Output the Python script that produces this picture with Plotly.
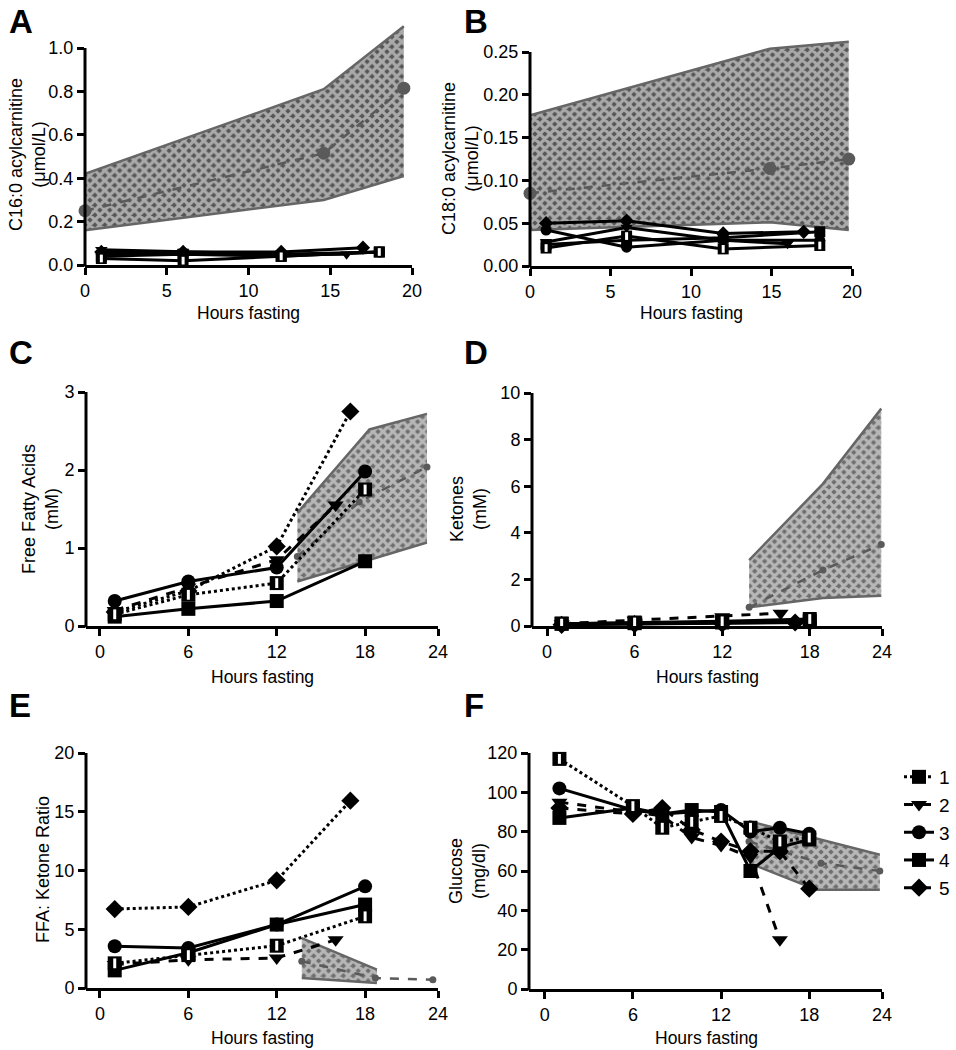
import plotly.graph_objects as go

W, H = 956, 1050

patients = ["1", "2", "3", "4", "5"]

# --- A: C16:0 acylcarnitine (umol/L) ---
a_hours = [[1, 6, 12, 18], [1, 6, 12, 16], [1, 6, 12, 18], [1, 6, 12, 18], [1, 6, 12, 17]]
a_vals = [[0.03, 0.02, 0.04, 0.06], [0.07, 0.06, 0.05, 0.05], [0.05, 0.05, 0.05, 0.06],
          [0.04, 0.05, 0.04, 0.06], [0.06, 0.06, 0.06, 0.08]]
a_ref_hours = [0, 14.6, 19.5]
a_ref_low = [0.16, 0.30, 0.41]
a_ref_high = [0.42, 0.81, 1.10]
a_mean_hours = [0, 14.6, 19.5]
a_mean = [0.25, 0.515, 0.815]

# --- B: C18:0 acylcarnitine (umol/L) ---
b_hours = [[1, 6, 12, 18], [1, 6, 12, 16], [1, 6, 12, 18], [1, 6, 12, 18], [1, 6, 12, 17]]
b_vals = [[0.021, 0.035, 0.020, 0.024], [0.028, 0.045, 0.030, 0.026], [0.042, 0.022, 0.030, 0.030],
          [0.025, 0.030, 0.033, 0.040], [0.050, 0.053, 0.038, 0.040]]
b_ref_hours = [0, 14.9, 19.8]
b_ref_low = [0.042, 0.051, 0.042]
b_ref_high = [0.176, 0.254, 0.262]
b_mean_hours = [0, 14.9, 19.8]
b_mean = [0.085, 0.114, 0.125]

# --- C: free fatty acids (mM) ---
c_hours = [[1, 6, 12, 18], [1, 6, 12, 16], [1, 6, 12, 18], [1, 6, 12, 18], [1, 6, 12, 17]]
c_vals = [[0.15, 0.40, 0.55, 1.75], [0.20, 0.50, 0.85, 1.55], [0.32, 0.57, 0.75, 1.98],
          [0.12, 0.22, 0.32, 0.83], [0.18, 0.45, 1.02, 2.75]]
c_ref_hours = [13.4, 18.3, 22.2]
c_ref_low = [0.57, 0.85, 1.07]
c_ref_high = [1.45, 2.52, 2.72]
c_mean_hours = [13.4, 17.6, 22.2]
c_mean = [0.89, 1.59, 2.04]

# --- D: ketones (mM) ---
d_hours = [[1, 6, 12, 18], [1, 6, 12, 16], [1, 6, 12, 18], [1, 6, 12, 18], [1, 6, 12, 17]]
d_vals = [[0.10, 0.15, 0.20, 0.30], [0.10, 0.25, 0.40, 0.55], [0.08, 0.10, 0.12, 0.15],
          [0.10, 0.12, 0.15, 0.20], [0.05, 0.08, 0.10, 0.15]]
d_ref_hours = [13.85, 18.9, 22.9]
d_ref_low = [0.8, 1.2, 1.3]
d_ref_high = [2.83, 6.1, 9.33]
d_mean_hours = [13.85, 18.9, 22.9]
d_mean = [0.8, 2.4, 3.5]

# --- E: FFA : ketone ratio ---
e_hours = [[1, 6, 12, 18], [1, 6, 12, 16], [1, 6, 12, 18], [1, 6, 12, 18], [1, 6, 12, 17]]
e_vals = [[2.1, 2.8, 3.6, 6.1], [2.0, 2.4, 2.55, 4.1], [3.55, 3.4, 5.4, 8.65],
          [1.5, 3.0, 5.4, 7.1], [6.72, 6.9, 9.16, 15.94]]
e_ref_hours = [13.7, 18.8]
e_ref_low = [0.85, 0.43]
e_ref_high = [4.25, 1.56]
e_mean_hours = [13.7, 18.7, 22.6]
e_mean = [2.27, 0.85, 0.71]

# --- F: glucose (mg/dl) ---
f_hours = [[1, 6, 8, 10, 12, 14, 16, 18], [1, 6, 8, 10, 12, 14, 16], [1, 6, 8, 10, 12, 14, 16, 18],
           [1, 6, 8, 10, 12, 14, 16, 18], [1, 6, 8, 10, 12, 14, 16, 18]]
f_vals = [[117, 93, 82, 85, 88, 82, 75, 77], [95, 90, 88, 77, 73, 67, 25],
          [102, 91, 89, 90, 91, 80, 82, 79], [87, 92, 89, 91, 90, 60, 72, 76],
          [92, 89, 92, 81, 75, 70, 70, 51]]
f_ref_hours = [13.9, 18.5, 22.8]
f_ref_low = [64, 50.5, 50.5]
f_ref_high = [85.3, 76.5, 68.3]
f_mean_hours = [13.9, 18.8, 22.8]
f_mean = [75, 64, 60]

hour_ticks_a = [0, 5, 10, 15, 20]
hour_ticks_c = [0, 6, 12, 18, 22.95]
hour_labels_c = ["0", "6", "12", "18", "24"]

FONT = "Liberation Sans, Arial, sans-serif"
symbols = ["square", "triangle-down", "circle", "square", "diamond"]
BAND_LINE = "#666666"


def add_panel(n, hours, vals, ref_h, ref_lo, ref_hi, mean_h, mean_v, dashes,
              msize, mean_size, band_bg, legend=False):
    xa, ya = f"x{n}", f"y{n}"
    # reference range band
    fig.add_trace(go.Scatter(x=ref_h, y=ref_lo, mode="lines", xaxis=xa, yaxis=ya,
                             line=dict(color=BAND_LINE, width=2.5), showlegend=False))
    fig.add_trace(go.Scatter(x=ref_h, y=ref_hi, mode="lines", xaxis=xa, yaxis=ya,
                             line=dict(color=BAND_LINE, width=2.5), fill="tonexty",
                             fillcolor=band_bg,
                             fillpattern=dict(shape="x", bgcolor=band_bg, fgcolor="white",
                                              size=7, solidity=0.7),
                             showlegend=False))
    fig.add_trace(go.Scatter(x=mean_h, y=mean_v, mode="lines+markers", xaxis=xa, yaxis=ya,
                             line=dict(color="#5a5a5a", width=2.5, dash="dash"),
                             marker=dict(color="#5a5a5a", size=mean_size),
                             cliponaxis=False, showlegend=False))
    for i in range(5):
        fig.add_trace(go.Scatter(x=hours[i], y=vals[i], mode="lines+markers", xaxis=xa, yaxis=ya,
                                 name=patients[i],
                                 line=dict(color="black", width=3, dash=dashes[i]),
                                 marker=dict(symbol=symbols[i], color="black", size=msize),
                                 cliponaxis=False, showlegend=legend))
    # white slot makes patient 1 a half-open square
    fig.add_trace(go.Scatter(x=hours[0], y=vals[0], mode="markers", xaxis=xa, yaxis=ya,
                             marker=dict(symbol="line-ns", size=msize * 0.5,
                                         line=dict(color="white", width=3)),
                             cliponaxis=False, showlegend=False))


fig = go.Figure()

solid = ["solid"] * 5
add_panel(1, a_hours, a_vals, a_ref_hours, a_ref_low, a_ref_high, a_mean_hours, a_mean,
          solid, 11, 13, "#555555")
add_panel(2, b_hours, b_vals, b_ref_hours, b_ref_low, b_ref_high, b_mean_hours, b_mean,
          solid, 11, 13, "#555555")
add_panel(3, c_hours, c_vals, c_ref_hours, c_ref_low, c_ref_high, c_mean_hours, c_mean,
          ["dot", "dash", "solid", "solid", "dot"], 14, 7, "#6e6e6e")
add_panel(4, d_hours, d_vals, d_ref_hours, d_ref_low, d_ref_high, d_mean_hours, d_mean,
          ["solid", "dash", "solid", "solid", "solid"], 14, 7, "#6e6e6e")
add_panel(5, e_hours, e_vals, e_ref_hours, e_ref_low, e_ref_high, e_mean_hours, e_mean,
          ["dot", "dash", "solid", "solid", "dot"], 14, 7, "#6e6e6e")
add_panel(6, f_hours, f_vals, f_ref_hours, f_ref_low, f_ref_high, f_mean_hours, f_mean,
          ["dot", "dash", "solid", "solid", "dash"], 14, 7, "#6e6e6e", legend=True)

# pixel boxes: left, right, bottom (y=0), top of range, top of axis line
panels = [
    dict(n=1, l=85, r=412, b=265, t=22, axtop=48, xr=[0, 20], yr=[0, 1.12],
         xt=hour_ticks_a, xl=[str(v) for v in hour_ticks_a],
         yt=[0, 0.2, 0.4, 0.6, 0.8, 1.0], yl=["0.0", "0.2", "0.4", "0.6", "0.8", "1.0"]),
    dict(n=2, l=530, r=852, b=266, t=35, axtop=52, xr=[0, 20], yr=[0, 0.27],
         xt=hour_ticks_a, xl=[str(v) for v in hour_ticks_a],
         yt=[0, 0.05, 0.1, 0.15, 0.2, 0.25], yl=["0.00", "0.05", "0.10", "0.15", "0.20", "0.25"]),
    dict(n=3, l=86, r=438, b=626, t=392, axtop=392, xr=[-0.95, 22.95], yr=[0, 3],
         xt=hour_ticks_c, xl=hour_labels_c, yt=[0, 1, 2, 3], yl=["0", "1", "2", "3"]),
    dict(n=4, l=532, r=882, b=626, t=393, axtop=393, xr=[-1.03, 22.95], yr=[0, 10],
         xt=hour_ticks_c, xl=hour_labels_c, yt=[0, 2, 4, 6, 8, 10],
         yl=["0", "2", "4", "6", "8", "10"]),
    dict(n=5, l=86, r=438, b=988, t=753, axtop=753, xr=[-0.95, 22.95], yr=[0, 20],
         xt=hour_ticks_c, xl=hour_labels_c, yt=[0, 5, 10, 15, 20], yl=["0", "5", "10", "15", "20"]),
    dict(n=6, l=529, r=882, b=989, t=753, axtop=753, xr=[-1.07, 22.95], yr=[0, 120],
         xt=hour_ticks_c, xl=hour_labels_c, yt=[0, 20, 40, 60, 80, 100, 120],
         yl=["0", "20", "40", "60", "80", "100", "120"]),
]

layout = {}
shapes = []
for p in panels:
    n = p["n"]
    layout[f"xaxis{n}"] = dict(
        domain=[p["l"] / W, p["r"] / W], range=p["xr"], anchor=f"y{n}", automargin=False,
        showline=True, linecolor="black", linewidth=3, showgrid=False, zeroline=False,
        ticks="outside", ticklen=7, tickwidth=3, tickcolor="black",
        tickvals=p["xt"], ticktext=p["xl"], tickfont=dict(size=18, color="black"))
    layout[f"yaxis{n}"] = dict(
        domain=[1 - p["b"] / H, 1 - p["t"] / H], range=p["yr"], anchor=f"x{n}", automargin=False,
        showline=False, showgrid=False, zeroline=False,
        ticks="outside", ticklen=7, tickwidth=3, tickcolor="black",
        tickvals=p["yt"], ticktext=p["yl"], tickfont=dict(size=18, color="black"))
    shapes.append(dict(type="line", xref="paper", yref="paper",
                       x0=p["l"] / W, x1=p["l"] / W,
                       y0=1 - (p["b"] + 1.5) / H, y1=1 - p["axtop"] / H,
                       line=dict(color="black", width=3)))

annotations = []
letters = [("A", 7, 21), ("B", 462, 21), ("C", 7, 352), ("D", 462, 352), ("E", 7, 705), ("F", 462, 705)]
for txt, x, y in letters:
    annotations.append(dict(text=f"<b>{txt}</b>", x=x / W, y=1 - y / H, xref="paper", yref="paper",
                            xanchor="left", yanchor="middle", showarrow=False,
                            font=dict(size=33, color="black")))

xtitles = [(248, 313), (691, 313), (262, 677), (707, 677), (262, 1038), (706, 1038)]
for x, y in xtitles:
    annotations.append(dict(text="Hours fasting", x=x / W, y=1 - y / H, xref="paper", yref="paper",
                            xanchor="center", yanchor="middle", showarrow=False,
                            font=dict(size=17.5, color="black")))

ytitles = [("C16:0 acylcarnitine<br>(μmol/L)", 27, 155), ("C18:0 acylcarnitine<br>(μmol/L)", 460, 159),
           ("Free Fatty Acids<br>(mM)", 41, 509), ("Ketones<br>(mM)", 469, 509),
           ("FFA: Ketone Ratio", 43, 870), ("Glucose<br>(mg/dl)", 467, 871)]
for txt, x, y in ytitles:
    annotations.append(dict(text=txt, x=x / W, y=1 - y / H, xref="paper", yref="paper",
                            xanchor="center", yanchor="middle", showarrow=False, textangle=-90,
                            font=dict(size=18, color="black")))

fig.update_layout(
    width=W, height=H, margin=dict(l=0, r=0, t=0, b=0),
    paper_bgcolor="white", plot_bgcolor="white",
    font=dict(family=FONT, color="black"),
    shapes=shapes, annotations=annotations,
    legend=dict(x=899 / W, y=1 - 758 / H, xanchor="left", yanchor="top", traceorder="normal",
                font=dict(size=19), bgcolor="rgba(0,0,0,0)", tracegroupgap=0, itemwidth=30),
    **layout,
)

# the page's default body margin would push the figure 8px right and down
fig.write_html("out.html", config={"displayModeBar": False},
               post_script="document.body.style.margin = '0';")
